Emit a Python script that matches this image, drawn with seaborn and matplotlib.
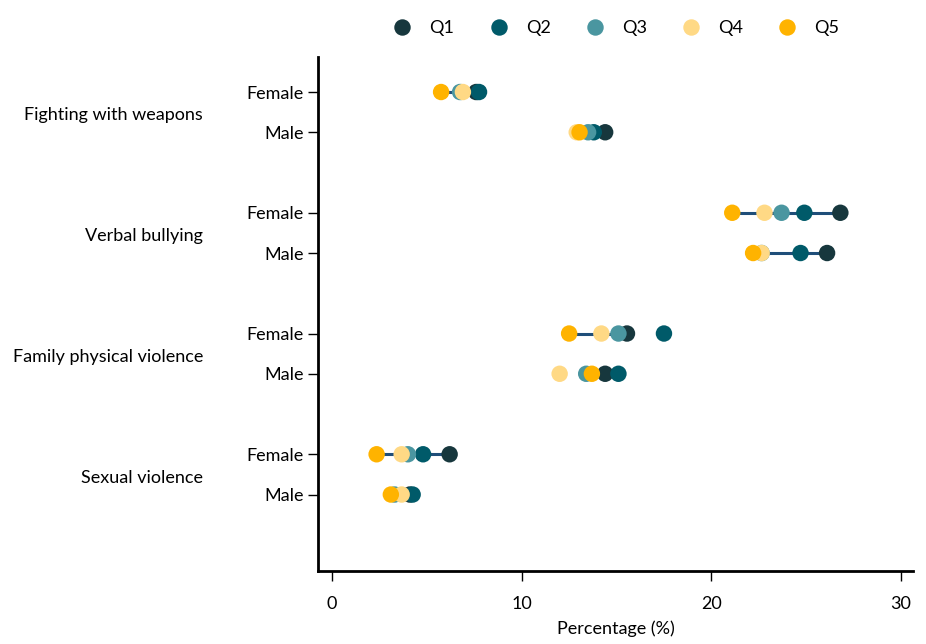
import pandas as pd
import numpy as np
import matplotlib
matplotlib.use('Agg')
import matplotlib.pyplot as plt
import seaborn as sns

# ---- data (percentages) ----
groups = ["Fighting with weapons", "Verbal bullying", "Family physical violence", "Sexual violence"]
sexes = ["Female", "Male"]
quintiles = ["Q1", "Q2", "Q3", "Q4", "Q5"]

# one list per quintile, ordered: weapons F/M, verbal F/M, family F/M, sexual F/M
q1 = [7.6, 14.4, 26.8, 26.1, 15.55, 14.4, 6.2, 4.1]
q2 = [7.75, 13.8, 24.9, 24.7, 17.5, 15.1, 4.8, 4.25]
q3 = [6.75, 13.5, 23.7, 22.65, 15.1, 13.4, 4.0, 3.3]
q4 = [6.9, 12.9, 22.8, 22.65, 14.2, 12.0, 3.67, 3.67]
q5 = [5.75, 13.05, 21.1, 22.2, 12.5, 13.7, 2.35, 3.1]

colors = ["#17373d", "#005a69", "#4a96a0", "#ffd985", "#ffb300"]
line_color = "#1f4e79"

# row positions: Female/Male within each group, gap between groups
rows = []
ypos = []
for gi, g in enumerate(groups):
    for si, s in enumerate(sexes):
        rows.append((g, s))
        ypos.append(gi * 3 + si)

values = [q1, q2, q3, q4, q5]
df = pd.DataFrame([
    {"group": rows[i][0], "sex": rows[i][1], "y": ypos[i], "quintile": q, "pct": values[qi][i]}
    for qi, q in enumerate(quintiles) for i in range(len(rows))
])

# ---- plot ----
sns.set_style("white")
plt.rcParams['font.family'] = ['Lato', 'DejaVu Sans']
plt.rcParams['text.color'] = 'black'
plt.rcParams['axes.labelcolor'] = 'black'

fig = plt.figure(figsize=(9.26, 6.44), dpi=100)
ax = fig.add_axes([318 / 926, 1 - 571 / 644, 595 / 926, 514 / 644])

# range line from Q1 to Q5
ax.hlines(ypos, q1, q5, color=line_color, lw=2.2, zorder=1)

sns.scatterplot(data=df, x="pct", y="y", hue="quintile", hue_order=quintiles,
                palette=colors, s=140, linewidth=0, alpha=1, ax=ax, zorder=2, legend=True)

ax.set_xlim(-0.74, 30.63)
ax.set_ylim(11.9, -0.87)
ax.set_xticks([0, 10, 20, 30])
ax.set_yticks(ypos)
ax.set_yticklabels([s for _, s in rows])
ax.tick_params(axis='both', labelsize=13, length=7, width=1, colors='black', direction='out')
ax.tick_params(axis='y', pad=3)
ax.tick_params(axis='x', pad=11)
ax.xaxis.set_ticks_position('bottom')
ax.yaxis.set_ticks_position('left')
for side in ["top", "right"]:
    ax.spines[side].set_visible(False)
for side in ["left", "bottom"]:
    ax.spines[side].set_color('black')
    ax.spines[side].set_linewidth(2)

ax.set_xlabel("Percentage (%)", fontsize=13, labelpad=6)
ax.set_ylabel("")

# group labels to the left of the Female/Male labels
for gi, g in enumerate(groups):
    ax.text(-0.193, gi * 3 + 0.58, g, transform=ax.get_yaxis_transform(),
            ha='right', va='center', fontsize=13, color='black')

handles, labels = ax.get_legend_handles_labels()
ax.legend_.remove()
fig.legend(handles, labels, loc='center', bbox_to_anchor=(612 / 926, 1 - 28 / 644),
           ncol=5, frameon=False, fontsize=13, handletextpad=0.5, columnspacing=1.45,
           markerscale=1.0)

fig.savefig("out.png", dpi=100)
